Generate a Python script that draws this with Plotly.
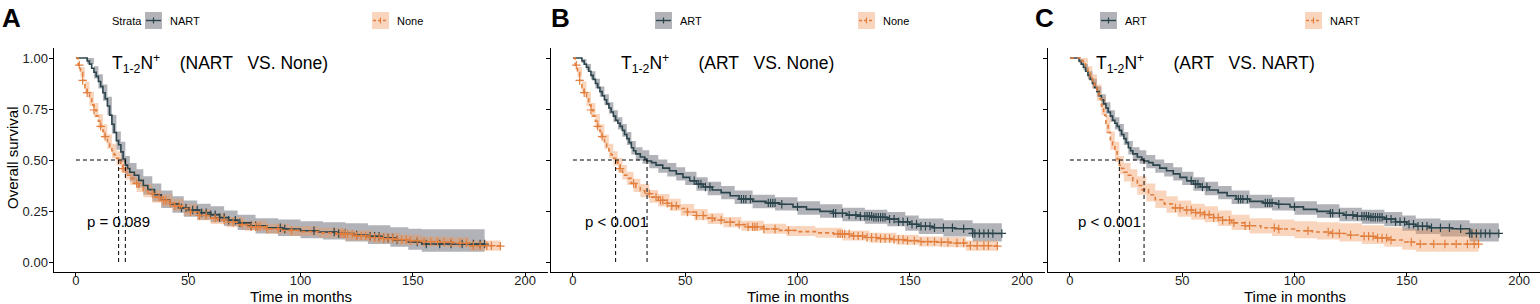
import numpy as np
import plotly.graph_objects as go

W, H = 1540, 304

# ---------------- data ----------------
# None group
NONE_T = [0, 1, 2, 3, 4, 5, 6, 7, 8, 9, 10, 11, 12, 13, 14, 15, 16, 17, 18, 19, 20, 21, 22, 23, 24, 26, 28, 30, 32, 35,
          38, 41, 44, 47, 51, 55, 59, 63, 67, 72, 78, 85, 92, 100, 108, 116, 124, 130, 136, 142, 148, 154, 162, 168, 175, 189]
NONE_S = [1.0, 0.965, 0.93, 0.89, 0.855, 0.83, 0.80, 0.77, 0.745, 0.715, 0.69, 0.665, 0.64, 0.615, 0.59, 0.565, 0.545,
          0.525, 0.508, 0.492, 0.475, 0.458, 0.44, 0.425, 0.41, 0.385, 0.365, 0.35, 0.335, 0.318, 0.302, 0.288, 0.275,
          0.262, 0.245, 0.228, 0.215, 0.205, 0.195, 0.183, 0.172, 0.162, 0.155, 0.149, 0.143, 0.138, 0.128, 0.12, 0.115,
          0.11, 0.105, 0.10, 0.097, 0.093, 0.08, 0.078]
NONE_CI_T = [0, 2, 4, 6, 8, 10, 12, 14, 16, 18, 20, 22, 24, 27, 30, 34, 38, 43, 48, 54, 60, 67, 75, 85, 95, 108, 120,
             132, 144, 154, 165, 175, 189]
NONE_LO = [1.0, 0.905, 0.825, 0.765, 0.71, 0.655, 0.605, 0.555, 0.51, 0.473, 0.44, 0.405, 0.377, 0.343, 0.318, 0.291,
           0.272, 0.251, 0.227, 0.205, 0.186, 0.17, 0.153, 0.138, 0.128, 0.119, 0.106, 0.094, 0.084, 0.076, 0.072,
           0.055, 0.05]
NONE_HI = [1.0, 0.955, 0.885, 0.835, 0.78, 0.725, 0.675, 0.625, 0.58, 0.543, 0.51, 0.475, 0.443, 0.408, 0.382, 0.353,
           0.333, 0.31, 0.284, 0.26, 0.239, 0.221, 0.202, 0.187, 0.177, 0.168, 0.155, 0.143, 0.133, 0.125, 0.122,
           0.105, 0.103]
NONE_CENS = [1.5, 3, 5, 8, 11, 13, 21, 27, 34, 37, 39, 40, 42, 44, 46, 51, 55, 58, 62, 66, 70, 74, 78, 80, 81, 82, 85,
             90, 96, 118, 119, 120, 121, 123, 125, 127, 129, 131, 133, 135, 137, 139, 141, 143, 145, 147, 149, 152,
             155, 158, 161, 164, 167, 171, 174, 177, 180, 183, 185, 189]

# NART group
NART_T = [0, 5, 6, 7, 8, 9, 10, 11, 12, 13, 14, 15, 16, 17, 18, 19, 20, 21, 22, 23, 24, 26, 28, 30, 32, 35, 38, 42, 46,
          50, 55, 60, 64, 68, 72, 78, 85, 92, 100, 108, 116, 124, 130, 136, 142, 148, 154, 182]
NART_S = [1.0, 0.985, 0.97, 0.95, 0.93, 0.91, 0.885, 0.86, 0.83, 0.80, 0.765, 0.72, 0.675, 0.635, 0.595, 0.575, 0.54,
          0.505, 0.475, 0.458, 0.44, 0.425, 0.40, 0.375, 0.355, 0.33, 0.305, 0.285, 0.265, 0.255, 0.242, 0.232, 0.218,
          0.205, 0.192, 0.178, 0.168, 0.162, 0.153, 0.147, 0.14, 0.132, 0.126, 0.118, 0.108, 0.098, 0.088, 0.088]
NART_CI_T = [0, 5, 8, 10, 12, 14, 16, 18, 20, 22, 24, 27, 30, 34, 38, 43, 48, 54, 60, 66, 72, 80, 90, 100, 110, 120,
             130, 140, 148, 154, 182]
NART_LO = [1.0, 0.97, 0.90, 0.85, 0.79, 0.72, 0.63, 0.55, 0.49, 0.43, 0.395, 0.365, 0.33, 0.297, 0.265, 0.241, 0.222,
           0.207, 0.195, 0.176, 0.157, 0.14, 0.128, 0.117, 0.11, 0.10, 0.088, 0.075, 0.06, 0.05, 0.05]
NART_HI = [1.0, 1.0, 0.96, 0.92, 0.87, 0.81, 0.72, 0.64, 0.59, 0.52, 0.485, 0.455, 0.42, 0.385, 0.35, 0.322, 0.302,
           0.285, 0.273, 0.252, 0.232, 0.215, 0.208, 0.2, 0.195, 0.19, 0.18, 0.17, 0.163, 0.16, 0.16]
NART_CENS = [47, 49, 52, 54, 56, 58, 60, 62, 64, 66, 68, 71, 73, 78, 80, 91, 93, 106, 115, 117, 120, 125, 131, 133, 135,
             137, 139, 141, 143, 152, 156, 162, 167, 172, 177, 180, 182]

# ART group
ART_T = [0, 4, 5, 6, 7, 8, 9, 10, 11, 12, 13, 14, 15, 16, 17, 18, 19, 20, 21, 22, 23, 24, 25, 26, 27, 28, 30, 32, 33,
         35, 37, 40, 43, 46, 49, 52, 55, 58, 62, 66, 70, 74, 80, 86, 92, 98, 104, 110, 116, 122, 128, 134, 140, 145,
         150, 154, 160, 170, 178, 191]
ART_S = [1.0, 0.985, 0.97, 0.955, 0.935, 0.915, 0.895, 0.875, 0.855, 0.835, 0.815, 0.795, 0.775, 0.755, 0.735, 0.715,
         0.695, 0.68, 0.665, 0.645, 0.625, 0.605, 0.585, 0.56, 0.545, 0.53, 0.515, 0.505, 0.495, 0.487, 0.475, 0.46,
         0.447, 0.432, 0.415, 0.398, 0.382, 0.368, 0.353, 0.34, 0.325, 0.308, 0.297, 0.29, 0.283, 0.27, 0.258, 0.248,
         0.239, 0.23, 0.224, 0.219, 0.21, 0.197, 0.185, 0.175, 0.168, 0.163, 0.14, 0.14]
ART_CI_T = [0, 4, 6, 8, 10, 12, 14, 16, 18, 20, 22, 24, 26, 28, 31, 34, 38, 42, 46, 50, 55, 60, 66, 72, 80, 90, 100,
            110, 120, 130, 140, 148, 154, 165, 178, 191]
ART_LO = [1.0, 0.975, 0.94, 0.895, 0.852, 0.81, 0.768, 0.727, 0.686, 0.65, 0.614, 0.573, 0.527, 0.497, 0.482, 0.459,
          0.437, 0.419, 0.399, 0.377, 0.349, 0.327, 0.307, 0.284, 0.264, 0.252, 0.232, 0.217, 0.2, 0.188, 0.175, 0.153,
          0.137, 0.125, 0.10, 0.10]
ART_HI = [1.0, 0.995, 0.97, 0.935, 0.898, 0.86, 0.822, 0.783, 0.744, 0.71, 0.676, 0.637, 0.593, 0.563, 0.548, 0.525,
          0.503, 0.485, 0.465, 0.443, 0.415, 0.393, 0.373, 0.35, 0.33, 0.318, 0.298, 0.283, 0.266, 0.256, 0.245, 0.228,
          0.213, 0.205, 0.19, 0.19]
ART_CENS = [54, 56, 57, 59, 61, 75, 76, 77, 79, 87, 88, 89, 90, 93, 100, 116, 117, 120, 123, 126, 128, 130, 131, 132,
            133, 134, 135, 136, 137, 138, 139, 141, 143, 145, 147, 149, 151, 153, 155, 157, 159, 161, 165, 169, 174,
            178, 179, 181, 183, 185, 187, 191]

PANEL_LABELS = ["A", "B", "C"]
PANEL_GROUPS = [("NART", "None"), ("ART", "None"), ("ART", "NART")]
PANEL_PVALS = ["p = 0.089", "p < 0.001", "p < 0.001"]
X_TICKS = [0, 50, 100, 150, 200]
Y_TICKS = [0, 0.25, 0.5, 0.75, 1.0]
Y_TICK_TEXT = ["0.00", "0.25", "0.50", "0.75", "1.00"]

GROUPS = {
    "None": (NONE_T, NONE_S, NONE_CI_T, NONE_LO, NONE_HI, NONE_CENS),
    "NART": (NART_T, NART_S, NART_CI_T, NART_LO, NART_HI, NART_CENS),
    "ART": (ART_T, ART_S, ART_CI_T, ART_LO, ART_HI, ART_CENS),
}

# ---------------- styling ----------------
FONT = "Liberation Sans, Arial, sans-serif"
DARK = "#2B444C"
ORANGE = "#E27F3E"
DARK_FILL = "rgba(120,124,132,0.58)"
ORANGE_FILL = "rgba(240,150,90,0.40)"

PX_PER_UNIT = 494 / 220.0
X_LEFT = [53.5, 550.5, 1047.5]
Y_TOP, Y_BOT = 47.8, 272.2


def px(x):
    return x / W


def py(y):
    return 1 - y / H


fig = go.Figure()
shapes = []
annotations = []


def step_value(T, S, t):
    idx = np.searchsorted(np.asarray(T, float), np.asarray(t, float), side="right") - 1
    return np.asarray(S)[idx]


def median_time(T, S):
    S = np.asarray(S)
    i = int(np.argmax(S <= 0.5))
    return T[i]


for p in range(3):
    sfx = "" if p == 0 else str(p + 1)
    xa, ya = "x" + sfx, "y" + sfx
    g_dark, g_or = PANEL_GROUPS[p]
    medians = []
    for gname, fill in ((g_dark, DARK_FILL), (g_or, ORANGE_FILL)):
        T, S, CT, LO, HI, CENS = GROUPS[gname]
        fig.add_trace(go.Scatter(x=CT, y=HI, mode="lines", line=dict(width=0, shape="hv"),
                                 xaxis=xa, yaxis=ya, showlegend=False, hoverinfo="skip"))
        fig.add_trace(go.Scatter(x=CT, y=LO, mode="lines", line=dict(width=0, shape="hv"),
                                 fill="tonexty", fillcolor=fill, xaxis=xa, yaxis=ya,
                                 showlegend=False, hoverinfo="skip"))
    for gname, col, dash in ((g_dark, DARK, "solid"), (g_or, ORANGE, "4px,3px")):
        T, S, CT, LO, HI, CENS = GROUPS[gname]
        fig.add_trace(go.Scatter(x=T, y=S, mode="lines", line=dict(color=col, width=1.6, shape="hv", dash=dash),
                                 xaxis=xa, yaxis=ya, showlegend=False, name=gname))
        fig.add_trace(go.Scatter(x=CENS, y=step_value(T, S, CENS), mode="markers",
                                 marker=dict(symbol="cross-thin", size=6, line=dict(color=col, width=1.2)),
                                 xaxis=xa, yaxis=ya, showlegend=False, hoverinfo="skip"))
        medians.append(median_time(T, S))
    shapes.append(dict(type="line", xref=xa, yref=ya, x0=0, x1=max(medians), y0=0.5, y1=0.5,
                       line=dict(color="black", width=1, dash="4px,3px")))
    for m in medians:
        shapes.append(dict(type="line", xref=xa, yref=ya, x0=m, x1=m, y0=0, y1=0.5,
                           line=dict(color="black", width=1, dash="4px,3px")))

    x0 = X_LEFT[p]
    x1 = min(x0 + 494, W)
    xr = [-10, -10 + (x1 - x0) / PX_PER_UNIT]
    axis_common = dict(showline=True, linecolor="black", linewidth=1, ticks="outside", ticklen=4,
                       tickcolor="black", tickwidth=1, showgrid=False, zeroline=False,
                       tickfont=dict(family=FONT, size=13, color="#222222"))
    fig.update_layout(**{
        "xaxis" + sfx: dict(domain=[px(x0), px(x1)], range=xr, anchor=ya, tickvals=X_TICKS,
                            ticklabelstandoff=-8, **axis_common),
        "yaxis" + sfx: dict(domain=[py(Y_BOT), py(Y_TOP)], range=[-0.05, 1.05], anchor=xa,
                            tickvals=Y_TICKS, ticktext=Y_TICK_TEXT, showticklabels=(p == 0),
                            ticklabelstandoff=-2, **axis_common),
    })

    gap_a = "\u00a0" * (4 if p == 0 else 6)
    title = ("T<sub>1-2</sub>N<sup>+</sup>" + gap_a + "(" + g_dark + "\u00a0\u00a0\u00a0VS. " + g_or + ")")
    title_x = [15.1, 20.5, 10.8][p]
    annotations.append(dict(xref=xa, yref=ya, x=title_x, y=0.975, text=title, showarrow=False,
                            xanchor="left", yanchor="middle", font=dict(family=FONT, size=17.5, color="black")))
    pv_x = [4.0, 4.5, 2.5][p]
    annotations.append(dict(xref=xa, yref=ya, x=pv_x, y=0.20, text=PANEL_PVALS[p], showarrow=False,
                            xanchor="left", yanchor="middle", font=dict(family=FONT, size=15, color="black")))
    annotations.append(dict(xref="paper", yref="paper", x=px(x0 + 494 / 2), y=py(296.5), text="Time in months",
                            showarrow=False, xanchor="center", yanchor="middle",
                            font=dict(family=FONT, size=15, color="black")))
    letter_x = [0, 549, 1033][p]
    annotations.append(dict(xref="paper", yref="paper", x=px(letter_x), y=py(18), text="<b>" + PANEL_LABELS[p] + "</b>",
                            showarrow=False, xanchor="left", yanchor="middle",
                            font=dict(family=FONT, size=26, color="black")))

    key_x = [[145, 372], [655, 858], [1100, 1305]][p]
    for k, (gname, col, fill, dash) in enumerate(((g_dark, DARK, DARK_FILL, "solid"),
                                                   (g_or, ORANGE, ORANGE_FILL, "3px,2px"))):
        kx = key_x[k]
        shapes.append(dict(type="rect", xref="paper", yref="paper", x0=px(kx), x1=px(kx + 17),
                           y0=py(29), y1=py(12), fillcolor=fill, line=dict(width=0)))
        shapes.append(dict(type="line", xref="paper", yref="paper", x0=px(kx + 1), x1=px(kx + 16),
                           y0=py(20.5), y1=py(20.5), line=dict(color=col, width=1.4, dash=dash)))
        shapes.append(dict(type="line", xref="paper", yref="paper", x0=px(kx + 8.5), x1=px(kx + 8.5),
                           y0=py(17.5), y1=py(23.5), line=dict(color=col, width=1.2)))
        annotations.append(dict(xref="paper", yref="paper", x=px(kx + 23), y=py(20.5), text=gname,
                                showarrow=False, xanchor="left", yanchor="middle",
                                font=dict(family=FONT, size=11, color="black")))

annotations.append(dict(xref="paper", yref="paper", x=px(110), y=py(20.5), text="Strata", showarrow=False,
                        xanchor="left", yanchor="middle", font=dict(family=FONT, size=11, color="black")))
annotations.append(dict(xref="paper", yref="paper", x=px(12), y=py(158), text="Overall survival", showarrow=False,
                        textangle=-90, xanchor="center", yanchor="middle",
                        font=dict(family=FONT, size=15, color="black")))

fig.update_layout(width=W, height=H, margin=dict(l=0, r=0, t=0, b=0), plot_bgcolor="white",
                  paper_bgcolor="white", showlegend=False, shapes=shapes, annotations=annotations)

fig.write_html("out.html", config={"displayModeBar": False},
               post_script="document.body.style.margin='0';document.body.style.padding='0';"
                           "document.body.style.overflow='hidden';")
